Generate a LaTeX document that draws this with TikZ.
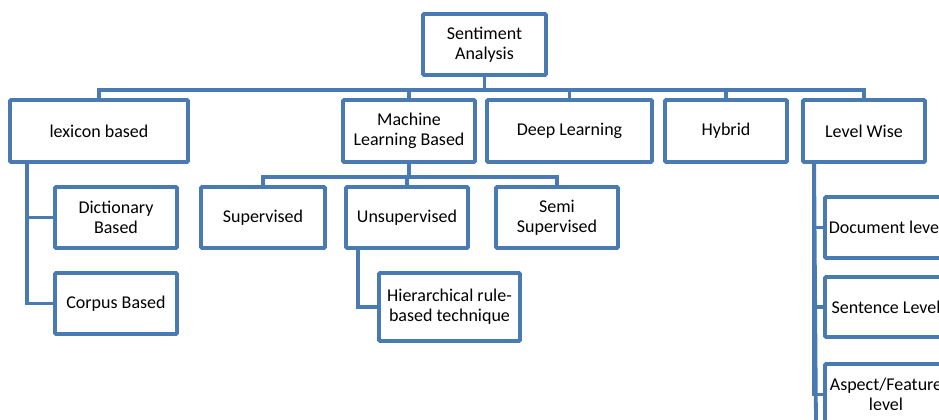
\documentclass[tikz,border=0pt]{standalone}
\usepackage{fontspec}
\setmainfont{Carlito}
\definecolor{boxblue}{RGB}{74,122,178}
\begin{document}
\begin{tikzpicture}[x=1pt,y=-1pt,
  box/.style={draw=boxblue,line width=3.8pt,fill=white,rounded corners=1pt,
    inner sep=0pt,align=center,font=\fontsize{18}{20}\selectfont,text=black},
  link/.style={draw=boxblue,line width=3.8pt}]
\useasboundingbox (0,0) rectangle (939,420);
\begin{scope}
\clip (0,0) rectangle (939,420);
\node[box,minimum width=123pt,minimum height=61pt] (root) at (484.5,44.5) {Sentiment\\Analysis};
\node[box,minimum width=178pt,minimum height=62pt] (lex) at (99,131) {lexicon based};
\node[box,minimum width=132pt,minimum height=62pt] (ml) at (409,131) {Machine\\Learning Based};
\node[box,minimum width=165pt,minimum height=62pt] (dl) at (569.5,131) {Deep Learning};
\node[box,minimum width=122pt,minimum height=62pt] (hyb) at (726,131) {Hybrid};
\node[box,minimum width=122pt,minimum height=62pt] (lw) at (864,131) {Level Wise};

\node[box,minimum width=124pt,minimum height=61pt] (sup) at (263,217.5) {Supervised};
\node[box,minimum width=122pt,minimum height=61pt] (uns) at (407,217.5) {Unsupervised};
\node[box,minimum width=122pt,minimum height=61pt] (semi) at (557,217.5) {Semi\\Supervised};
\node[box,minimum width=141pt,minimum height=68pt] (hier) at (449.5,307) {Hierarchical rule-\\based technique};

\node[box,minimum width=122pt,minimum height=61pt] (dict) at (116,217.5) {Dictionary\\Based};
\node[box,minimum width=122pt,minimum height=61pt] (corp) at (116,303.5) {Corpus Based};

\node[box,minimum width=122pt,minimum height=61pt] (doc) at (886,227.5) {Document level};
\node[box,minimum width=122pt,minimum height=60pt] (sen) at (886,307) {Sentence Level};
\node[box,minimum width=122pt,minimum height=61pt] (asp) at (886,394.5) {Aspect/Feature\\level};
\coordinate (lwend) at (816,425);

% connectors
\foreach \c in {lex,ml,dl,hyb,lw}{
  \draw[link] (root.south) -- ++(0,13) -| (\c.north);
}
\foreach \c in {sup,uns,semi}{
  \draw[link] (ml.south) -- ++(0,13) -| (\c.north);
}
\draw[link] ([xshift=19pt]lex.south west) |- (dict.west);
\draw[link] ([xshift=19pt]lex.south west) |- (corp.west);
\draw[link] ([xshift=14pt]uns.south west) |- (hier.west);
\draw[link] ([xshift=13pt]lw.south west) |- (doc.west);
\draw[link] ([xshift=13pt]lw.south west) |- (sen.west);
\draw[link] ([xshift=13pt]lw.south west) |- (asp.west);
\draw[link] ([xshift=13pt]lw.south west) -- (lwend);
\end{scope}
\end{tikzpicture}
\end{document}
